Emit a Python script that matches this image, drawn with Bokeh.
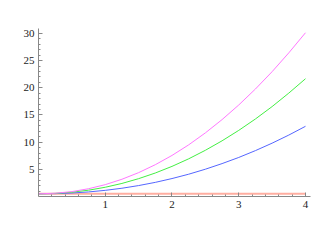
from bokeh.plotting import figure
from bokeh.models import FixedTicker, Range1d
from bokeh.embed import file_html
from bokeh.resources import INLINE

xs = [0, 0.25, 0.5, 0.75, 1, 1.25, 1.5, 1.75, 2, 2.25, 2.5, 2.75, 3, 3.25, 3.5, 3.75, 4]
magenta = [0.5, 0.60, 0.90, 1.43, 2.18, 3.17, 4.39, 5.85, 7.55, 9.50, 11.70, 14.14, 16.83, 19.77, 22.96, 26.42, 30.12]
green = [0.5, 0.57, 0.79, 1.16, 1.70, 2.40, 3.28, 4.32, 5.54, 6.93, 8.50, 10.24, 12.16, 14.26, 16.54, 19.02, 21.66]
blue = [0.5, 0.53, 0.64, 0.84, 1.13, 1.52, 2.01, 2.60, 3.30, 4.10, 5.02, 6.05, 7.18, 8.44, 9.81, 11.30, 12.91]
red = [0.5] * len(xs)

x_ticks = [1, 2, 3, 4]
x_minor = [round(i * 0.2, 1) for i in range(1, 21)]
y_ticks = [5, 10, 15, 20, 25, 30]
y_minor = list(range(1, 31))

p = figure(width=320, height=233, output_backend="svg", toolbar_location=None,
           x_range=Range1d(0, 4.075), y_range=Range1d(0, 30.9),
           min_border_left=38, min_border_right=10, min_border_top=28, min_border_bottom=37)
p.outline_line_color = None
p.xgrid.visible = False
p.ygrid.visible = False
p.background_fill_color = "white"

p.line(xs, red, line_color="#ff9a8a", line_width=2, line_alpha=0.8)
p.line(xs, blue, line_color="#5566ff", line_width=1)
p.line(xs, green, line_color="#44ee44", line_width=1)
p.line(xs, magenta, line_color="#ff77ff", line_width=1)

for ax, t, m in ((p.xaxis[0], x_ticks, x_minor), (p.yaxis[0], y_ticks, y_minor)):
    ax.ticker = FixedTicker(ticks=t, minor_ticks=m)
    ax.axis_line_color = "#888888"
    ax.major_tick_line_color = "#888888"
    ax.minor_tick_line_color = "#888888"
    ax.major_tick_in = 4
    ax.major_tick_out = 0
    ax.minor_tick_in = 2
    ax.minor_tick_out = 0
    ax.major_label_text_font = "'Liberation Serif', serif"
    ax.major_label_text_font_size = "11px"
    ax.major_label_text_color = "#222222"
    ax.major_label_standoff = 4

open("out.html", "w").write(file_html(p, INLINE))
